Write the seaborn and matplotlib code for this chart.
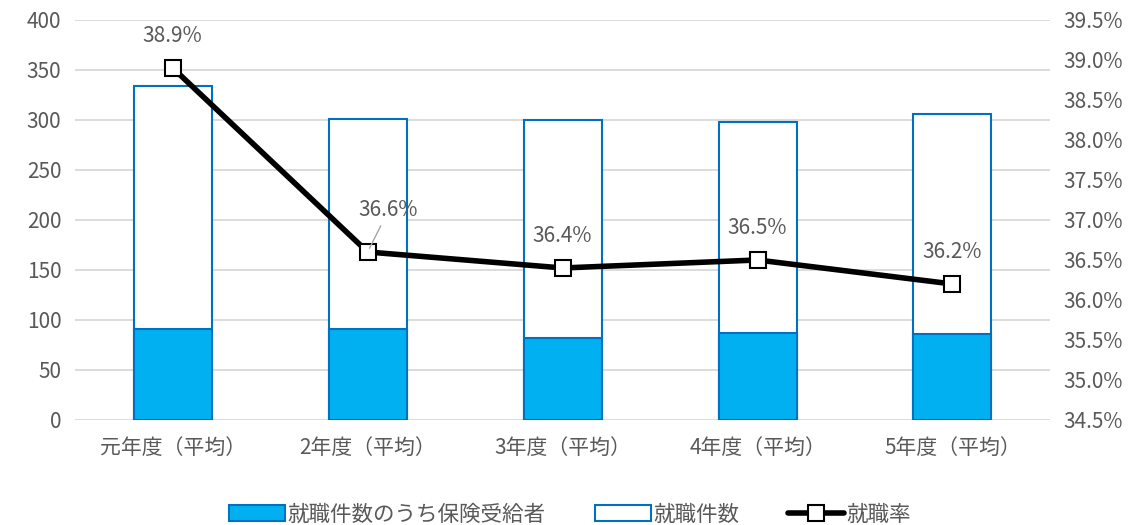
from matplotlib import pyplot as plt
from matplotlib.patches import Patch
from matplotlib.lines import Line2D
import numpy as np
import pandas as pd
import seaborn as sns

# data
categories = ['元年度（平均）', '2年度（平均）', '3年度（平均）', '4年度（平均）', '5年度（平均）']
total_jobs = [334, 301, 300, 298, 306]        # 就職件数
insured_jobs = [91, 91, 82, 87, 86]           # 就職件数のうち保険受給者
job_rate = [38.9, 36.6, 36.4, 36.5, 36.2]     # 就職率 (%)
rate_labels = ['38.9%', '36.6%', '36.4%', '36.5%', '36.2%']

sns.set_style('white')
plt.rcParams['font.family'] = ['Noto Sans CJK JP', 'DejaVu Sans']
grey = '#595959'
fs = 15

df = pd.DataFrame({'cat': categories, 'total': total_jobs, 'insured': insured_jobs})

fig, ax = plt.subplots(figsize=(11.4, 5.25), dpi=100)
fig.subplots_adjust(left=0.066, right=0.921, top=0.962, bottom=0.2)

# gridlines behind bars
ax.set_axisbelow(True)
ax.yaxis.grid(True, color='#D9D9D9', linewidth=1.3)

sns.barplot(data=df, x='cat', y='total', color='white', edgecolor='#0070C0',
            linewidth=1.5, width=0.4, saturation=1, ax=ax)
sns.barplot(data=df, x='cat', y='insured', color='#00B0F0', edgecolor='#0070C0',
            linewidth=1.5, width=0.4, saturation=1, ax=ax)

ax.set_ylim(0, 400)
ax.set_yticks(range(0, 401, 50))
ax.set_xlim(-0.5, 4.5)
ax.set_xlabel('')
ax.set_ylabel('')
ax.tick_params(axis='both', length=0, labelsize=fs, labelcolor=grey)
ax.tick_params(axis='x', pad=12)
ax.tick_params(axis='y', pad=10)
for s in ax.spines.values():
    s.set_visible(False)

# rate line on the secondary axis
ax2 = ax.twinx()
x_pos = np.arange(len(categories))
sns.lineplot(x=x_pos, y=job_rate, ax=ax2, color='black', linewidth=4,
             marker='s', markersize=11, markerfacecolor='white',
             markeredgecolor='black', markeredgewidth=1.5)
ax2.set_ylim(34.5, 39.5)
ax2.set_yticks(np.arange(34.5, 39.51, 0.5))
ax2.set_yticklabels([f'{v:.1f}%' for v in np.arange(34.5, 39.51, 0.5)])
ax2.set_xlim(-0.5, 4.5)
ax2.tick_params(axis='y', length=0, labelsize=fs, labelcolor=grey, pad=10)
for s in ax2.spines.values():
    s.set_visible(False)

for i, (v, lab) in enumerate(zip(job_rate, rate_labels)):
    if i == 1:
        ax2.annotate(lab, xy=(i, v), xytext=(15, 30), textcoords='offset points',
                     ha='center', va='center', fontsize=fs, color=grey,
                     arrowprops=dict(arrowstyle='-', color='#A6A6A6', lw=1,
                                     shrinkA=1, shrinkB=3))
    else:
        ax2.annotate(lab, xy=(i, v), xytext=(0, 23), textcoords='offset points',
                     ha='center', va='center', fontsize=fs, color=grey)

handles = [
    Patch(facecolor='#00B0F0', edgecolor='#0070C0', linewidth=1.5),
    Patch(facecolor='white', edgecolor='#0070C0', linewidth=1.5),
    Line2D([0], [0], color='black', linewidth=4, marker='s', markersize=11,
           markerfacecolor='white', markeredgecolor='black', markeredgewidth=1.5),
]
labels = ['就職件数のうち保険受給者', '就職件数', '就職率']
fig.legend(handles, labels, loc='center', bbox_to_anchor=(0.5, 0.02), ncol=3,
           frameon=False, fontsize=15.5, labelcolor=grey, handlelength=2.6,
           handleheight=0.8, handletextpad=0.1, columnspacing=2.3)

plt.savefig('out.png', dpi=100)
